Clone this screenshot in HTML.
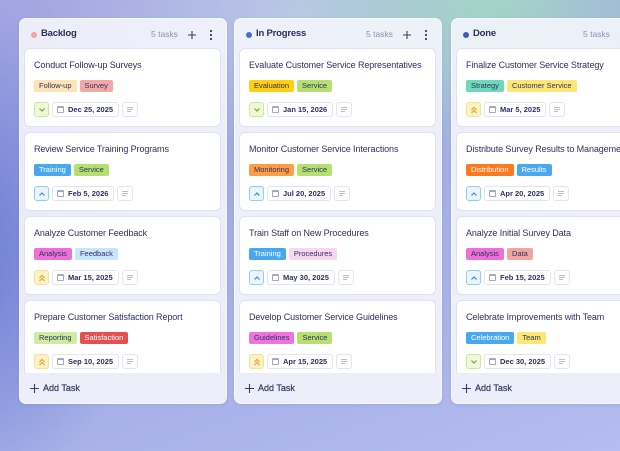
<!DOCTYPE html>
<html><head><meta charset="utf-8">
<style>
*{margin:0;padding:0;box-sizing:border-box}
html,body{width:620px;height:451px;overflow:hidden}
body{position:relative;font-family:"Liberation Sans",sans-serif;color:#2d3160;
background:
radial-gradient(ellipse 230px 170px at 490px -10px, rgba(163,216,196,0.95), rgba(163,216,196,0) 100%),
radial-gradient(ellipse 210px 260px at -60px 250px, rgba(98,115,210,0.95), rgba(98,115,210,0) 100%),
radial-gradient(ellipse 260px 140px at 300px 10px, rgba(190,202,232,0.9), rgba(190,202,232,0) 100%),
linear-gradient(160deg,#a4a6e2 0%,#a2abe2 35%,#a9b2e8 70%,#b4bcf0 100%);}
.col{position:absolute;top:18px;width:208px;height:386px;border-radius:7px;background:rgba(244,245,252,0.9);border:1px solid rgba(255,255,255,0.55);overflow:hidden;box-shadow:0 1px 3px rgba(60,70,140,0.12)}
.hdr{position:absolute;left:0;top:0;width:100%;height:30px}
.dot{position:absolute;left:11px;top:13px;width:6px;height:6px;border-radius:50%}
.ttl{position:absolute;left:21px;top:9px;font-size:9.5px;line-height:12px;font-weight:bold;color:#2b2f5a;letter-spacing:-0.2px}
.cnt{position:absolute;left:131px;top:10px;font-size:8.5px;line-height:11px;color:#8e92ab}
.plus{position:absolute;left:168px;top:12px}
.more{position:absolute;left:189px;top:10px}
.card{position:absolute;left:4px;width:197px;height:79px;background:#fff;border:1px solid #dfe2f3;border-radius:6px}
.t{position:absolute;left:9px;top:10px;font-size:9px;line-height:12px;white-space:nowrap;color:#2d3160;letter-spacing:-0.1px}
.tags{position:absolute;left:9px;top:31px;height:12px;white-space:nowrap;font-size:0}
.tag{display:inline-block;height:12px;line-height:12px;font-size:7.5px;padding:0 5px;border-radius:2px;margin-right:3px;color:#2d3160;vertical-align:top}
.w{color:#fff}
.ft{position:absolute;left:9px;top:53px;height:15px;white-space:nowrap;font-size:0}
.pr{display:inline-block;width:15px;height:15px;border:1px solid;border-radius:3px;vertical-align:top;position:relative;margin-right:3px}
.pr svg{position:absolute;left:3px;top:4px}
.g{background:#eff8d9;border-color:#c9ec92}
.b{background:#eaf5fd;border-color:#92cdf3}
.y{background:#fdf3c4;border-color:#f6e39a}
.date{display:inline-block;height:15px;line-height:13px;border:1px solid #e3e5f0;border-radius:3px;padding:0 5px 0 15px;font-size:7.5px;font-weight:bold;color:#2d3160;position:relative;vertical-align:top;margin-right:3px}
.cal{position:absolute;left:4px;top:3px;width:7px;height:7px;border:1px solid #a5a8bf;border-top-width:2px;border-radius:1px}
.note{display:inline-block;width:16px;height:15px;border:1px solid #e3e5f0;border-radius:3px;position:relative;vertical-align:top}
.note i{position:absolute;left:4px;height:1px;background:#b9bcd2}
.add{position:absolute;left:0;top:354px;width:100%;height:32px;background:#eceef9}
.add span{position:absolute;left:23px;top:9px;font-size:9px;line-height:12px;color:#34385f;-webkit-text-stroke:0.2px #34385f}
.add svg{position:absolute;left:10px;top:11px}
</style></head><body>

<!-- Backlog -->
<div class="col" style="left:19px">
 <div class="hdr"><span class="dot" style="background:#f3a3a3"></span><span class="ttl">Backlog</span><span class="cnt">5 tasks</span>
 <svg class="plus" width="8" height="8"><path d="M4 0V8M0 4H8" stroke="#3a3e63" stroke-width="1.1"/></svg>
 <svg class="more" width="4" height="12"><circle cx="2" cy="2" r="1.1" fill="#3a3e63"/><circle cx="2" cy="6" r="1.1" fill="#3a3e63"/><circle cx="2" cy="10" r="1.1" fill="#3a3e63"/></svg></div>

 <div class="card" style="top:29px"><div class="t">Conduct Follow-up Surveys</div>
 <div class="tags"><span class="tag" style="background:#fde3b6">Follow-up</span><span class="tag" style="background:#f1a8a6">Survey</span></div>
 <div class="ft"><span class="pr g"><svg width="8" height="6"><polyline points="1.5,1.5 4,4 6.5,1.5" fill="none" stroke="#78a63a" stroke-width="1.2"/></svg></span><span class="date"><i class="cal"></i>Dec 25, 2025</span><span class="note"><i style="top:4px;width:6px"></i><i style="top:6px;width:6px"></i><i style="top:8px;width:4px"></i></span></div></div>

 <div class="card" style="top:113px"><div class="t">Review Service Training Programs</div>
 <div class="tags"><span class="tag w" style="background:#48a8ef">Training</span><span class="tag" style="background:#b6df6f">Service</span></div>
 <div class="ft"><span class="pr b"><svg width="8" height="6"><polyline points="1.5,4.5 4,2 6.5,4.5" fill="none" stroke="#3b8fd4" stroke-width="1.2"/></svg></span><span class="date"><i class="cal"></i>Feb 5, 2026</span><span class="note"><i style="top:4px;width:6px"></i><i style="top:6px;width:6px"></i><i style="top:8px;width:4px"></i></span></div></div>

 <div class="card" style="top:197px"><div class="t">Analyze Customer Feedback</div>
 <div class="tags"><span class="tag" style="background:#ec70d7">Analysis</span><span class="tag" style="background:#c8e5fa">Feedback</span></div>
 <div class="ft"><span class="pr y"><svg width="8" height="8" style="top:3px"><polyline points="1.5,4 4,1.5 6.5,4" fill="none" stroke="#f0a22a" stroke-width="1.2"/><polyline points="1.5,7 4,4.5 6.5,7" fill="none" stroke="#f0a22a" stroke-width="1.2"/></svg></span><span class="date"><i class="cal"></i>Mar 15, 2025</span><span class="note"><i style="top:4px;width:6px"></i><i style="top:6px;width:6px"></i><i style="top:8px;width:4px"></i></span></div></div>

 <div class="card" style="top:281px"><div class="t">Prepare Customer Satisfaction Report</div>
 <div class="tags"><span class="tag" style="background:#ceeca2">Reporting</span><span class="tag w" style="background:#e4504f">Satisfaction</span></div>
 <div class="ft"><span class="pr y"><svg width="8" height="8" style="top:3px"><polyline points="1.5,4 4,1.5 6.5,4" fill="none" stroke="#f0a22a" stroke-width="1.2"/><polyline points="1.5,7 4,4.5 6.5,7" fill="none" stroke="#f0a22a" stroke-width="1.2"/></svg></span><span class="date"><i class="cal"></i>Sep 10, 2025</span><span class="note"><i style="top:4px;width:6px"></i><i style="top:6px;width:6px"></i><i style="top:8px;width:4px"></i></span></div></div>

 <div class="add"><svg width="9" height="9"><path d="M4.5 0V9M0 4.5H9" stroke="#3a3e63" stroke-width="1.1"/></svg><span>Add Task</span></div>
</div>

<!-- In Progress -->
<div class="col" style="left:234px">
 <div class="hdr"><span class="dot" style="background:#4a6fdc"></span><span class="ttl">In Progress</span><span class="cnt">5 tasks</span>
 <svg class="plus" width="8" height="8"><path d="M4 0V8M0 4H8" stroke="#3a3e63" stroke-width="1.1"/></svg>
 <svg class="more" width="4" height="12"><circle cx="2" cy="2" r="1.1" fill="#3a3e63"/><circle cx="2" cy="6" r="1.1" fill="#3a3e63"/><circle cx="2" cy="10" r="1.1" fill="#3a3e63"/></svg></div>

 <div class="card" style="top:29px"><div class="t">Evaluate Customer Service Representatives</div>
 <div class="tags"><span class="tag" style="background:#fdd010">Evaluation</span><span class="tag" style="background:#b6df6f">Service</span></div>
 <div class="ft"><span class="pr g"><svg width="8" height="6"><polyline points="1.5,1.5 4,4 6.5,1.5" fill="none" stroke="#78a63a" stroke-width="1.2"/></svg></span><span class="date"><i class="cal"></i>Jan 15, 2026</span><span class="note"><i style="top:4px;width:6px"></i><i style="top:6px;width:6px"></i><i style="top:8px;width:4px"></i></span></div></div>

 <div class="card" style="top:113px"><div class="t">Monitor Customer Service Interactions</div>
 <div class="tags"><span class="tag" style="background:#fd9d46">Monitoring</span><span class="tag" style="background:#b6df6f">Service</span></div>
 <div class="ft"><span class="pr b"><svg width="8" height="6"><polyline points="1.5,4.5 4,2 6.5,4.5" fill="none" stroke="#3b8fd4" stroke-width="1.2"/></svg></span><span class="date"><i class="cal"></i>Jul 20, 2025</span><span class="note"><i style="top:4px;width:6px"></i><i style="top:6px;width:6px"></i><i style="top:8px;width:4px"></i></span></div></div>

 <div class="card" style="top:197px"><div class="t">Train Staff on New Procedures</div>
 <div class="tags"><span class="tag w" style="background:#48a8ef">Training</span><span class="tag" style="background:#fbd6f1">Procedures</span></div>
 <div class="ft"><span class="pr b"><svg width="8" height="6"><polyline points="1.5,4.5 4,2 6.5,4.5" fill="none" stroke="#3b8fd4" stroke-width="1.2"/></svg></span><span class="date"><i class="cal"></i>May 30, 2025</span><span class="note"><i style="top:4px;width:6px"></i><i style="top:6px;width:6px"></i><i style="top:8px;width:4px"></i></span></div></div>

 <div class="card" style="top:281px"><div class="t">Develop Customer Service Guidelines</div>
 <div class="tags"><span class="tag" style="background:#ef74dc">Guidelines</span><span class="tag" style="background:#b6df6f">Service</span></div>
 <div class="ft"><span class="pr y"><svg width="8" height="8" style="top:3px"><polyline points="1.5,4 4,1.5 6.5,4" fill="none" stroke="#f0a22a" stroke-width="1.2"/><polyline points="1.5,7 4,4.5 6.5,7" fill="none" stroke="#f0a22a" stroke-width="1.2"/></svg></span><span class="date"><i class="cal"></i>Apr 15, 2025</span><span class="note"><i style="top:4px;width:6px"></i><i style="top:6px;width:6px"></i><i style="top:8px;width:4px"></i></span></div></div>

 <div class="add"><svg width="9" height="9"><path d="M4.5 0V9M0 4.5H9" stroke="#3a3e63" stroke-width="1.1"/></svg><span>Add Task</span></div>
</div>

<!-- Done -->
<div class="col" style="left:451px">
 <div class="hdr"><span class="dot" style="background:#3d5cc0"></span><span class="ttl">Done</span><span class="cnt">5 tasks</span>
 <svg class="plus" width="8" height="8"><path d="M4 0V8M0 4H8" stroke="#3a3e63" stroke-width="1.1"/></svg>
 <svg class="more" width="4" height="12"><circle cx="2" cy="2" r="1.1" fill="#3a3e63"/><circle cx="2" cy="6" r="1.1" fill="#3a3e63"/><circle cx="2" cy="10" r="1.1" fill="#3a3e63"/></svg></div>

 <div class="card" style="top:29px"><div class="t">Finalize Customer Service Strategy</div>
 <div class="tags"><span class="tag" style="background:#6fd8b9">Strategy</span><span class="tag" style="background:#fde774">Customer Service</span></div>
 <div class="ft"><span class="pr y"><svg width="8" height="8" style="top:3px"><polyline points="1.5,4 4,1.5 6.5,4" fill="none" stroke="#f0a22a" stroke-width="1.2"/><polyline points="1.5,7 4,4.5 6.5,7" fill="none" stroke="#f0a22a" stroke-width="1.2"/></svg></span><span class="date"><i class="cal"></i>Mar 5, 2025</span><span class="note"><i style="top:4px;width:6px"></i><i style="top:6px;width:6px"></i><i style="top:8px;width:4px"></i></span></div></div>

 <div class="card" style="top:113px"><div class="t">Distribute Survey Results to Management</div>
 <div class="tags"><span class="tag w" style="background:#fb7a1e">Distribution</span><span class="tag w" style="background:#4aa8ef">Results</span></div>
 <div class="ft"><span class="pr b"><svg width="8" height="6"><polyline points="1.5,4.5 4,2 6.5,4.5" fill="none" stroke="#3b8fd4" stroke-width="1.2"/></svg></span><span class="date"><i class="cal"></i>Apr 20, 2025</span><span class="note"><i style="top:4px;width:6px"></i><i style="top:6px;width:6px"></i><i style="top:8px;width:4px"></i></span></div></div>

 <div class="card" style="top:197px"><div class="t">Analyze Initial Survey Data</div>
 <div class="tags"><span class="tag" style="background:#ec70d7">Analysis</span><span class="tag" style="background:#f0a7a1">Data</span></div>
 <div class="ft"><span class="pr b"><svg width="8" height="6"><polyline points="1.5,4.5 4,2 6.5,4.5" fill="none" stroke="#3b8fd4" stroke-width="1.2"/></svg></span><span class="date"><i class="cal"></i>Feb 15, 2025</span><span class="note"><i style="top:4px;width:6px"></i><i style="top:6px;width:6px"></i><i style="top:8px;width:4px"></i></span></div></div>

 <div class="card" style="top:281px"><div class="t">Celebrate Improvements with Team</div>
 <div class="tags"><span class="tag w" style="background:#48a8ef">Celebration</span><span class="tag" style="background:#fde774">Team</span></div>
 <div class="ft"><span class="pr g"><svg width="8" height="6"><polyline points="1.5,1.5 4,4 6.5,1.5" fill="none" stroke="#78a63a" stroke-width="1.2"/></svg></span><span class="date"><i class="cal"></i>Dec 30, 2025</span><span class="note"><i style="top:4px;width:6px"></i><i style="top:6px;width:6px"></i><i style="top:8px;width:4px"></i></span></div></div>

 <div class="add"><svg width="9" height="9"><path d="M4.5 0V9M0 4.5H9" stroke="#3a3e63" stroke-width="1.1"/></svg><span>Add Task</span></div>
</div>

</body></html>
